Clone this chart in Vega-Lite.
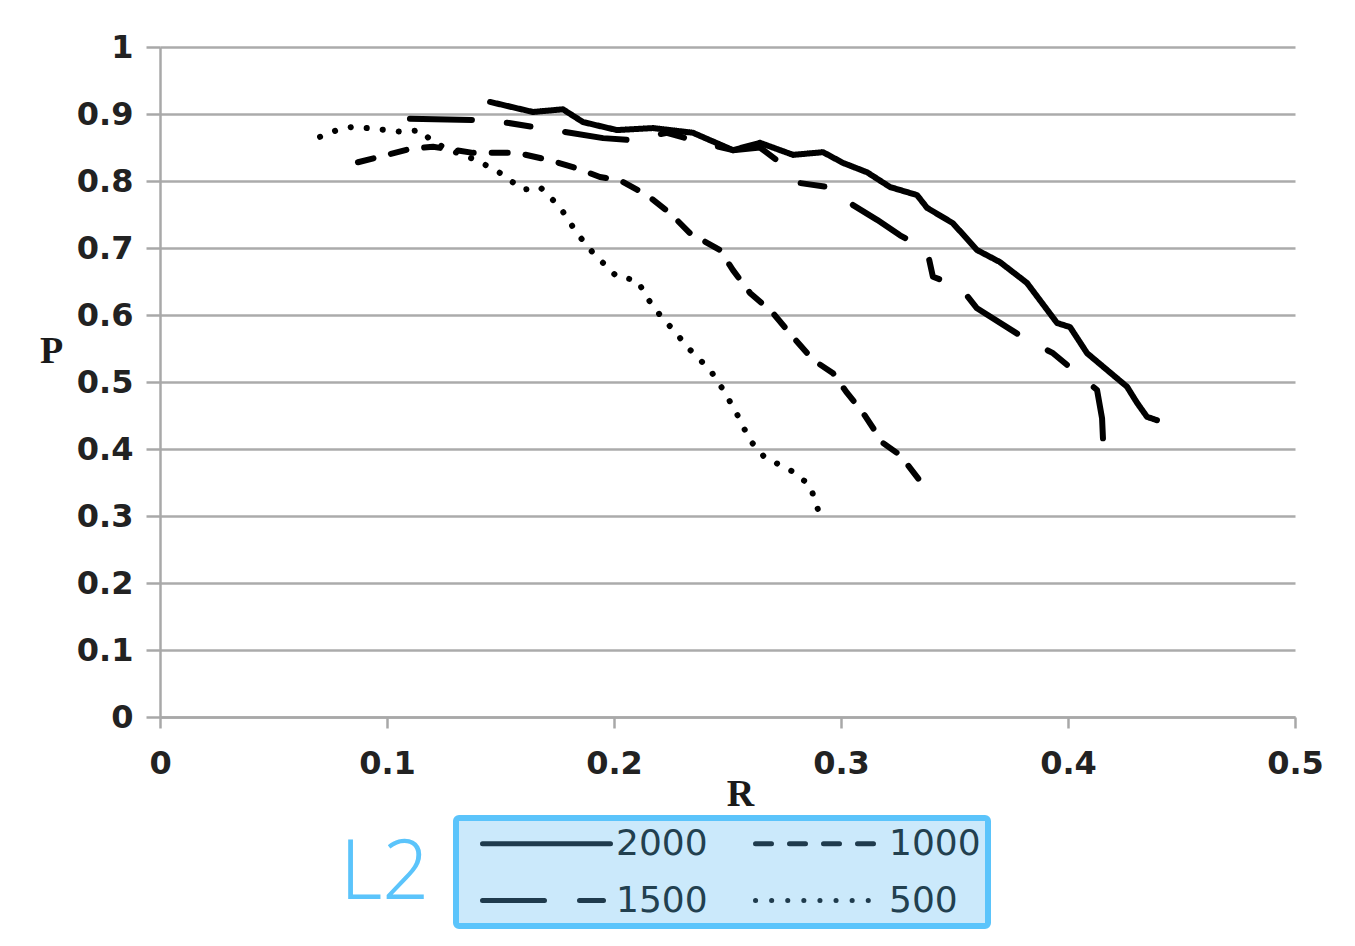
{
  "$schema": "https://vega.github.io/schema/vega-lite/v6.json",
  "width": 1135,
  "height": 670,
  "autosize": "none",
  "padding": {"left": 160, "top": 47, "right": 60, "bottom": 229},
  "background": "white",
  "title": {
    "text": "L2",
    "orient": "bottom",
    "anchor": "start",
    "frame": "group",
    "baseline": "top",
    "dx": 180,
    "offset": -95,
    "color": "#5bc4fb",
    "font": "Noto Sans",
    "fontSize": 82,
    "fontWeight": 300
  },
  "data": {
    "values": [
      {"N": "2000", "R": 0.1454, "P": 0.918},
      {"N": "2000", "R": 0.1643, "P": 0.903},
      {"N": "2000", "R": 0.1775, "P": 0.907},
      {"N": "2000", "R": 0.1863, "P": 0.888},
      {"N": "2000", "R": 0.2013, "P": 0.876},
      {"N": "2000", "R": 0.2172, "P": 0.879},
      {"N": "2000", "R": 0.2348, "P": 0.872},
      {"N": "2000", "R": 0.2524, "P": 0.846},
      {"N": "2000", "R": 0.2643, "P": 0.857},
      {"N": "2000", "R": 0.2789, "P": 0.839},
      {"N": "2000", "R": 0.2921, "P": 0.843},
      {"N": "2000", "R": 0.3009, "P": 0.827},
      {"N": "2000", "R": 0.3115, "P": 0.813},
      {"N": "2000", "R": 0.3216, "P": 0.791},
      {"N": "2000", "R": 0.3335, "P": 0.779},
      {"N": "2000", "R": 0.3379, "P": 0.760},
      {"N": "2000", "R": 0.3493, "P": 0.737},
      {"N": "2000", "R": 0.3599, "P": 0.697},
      {"N": "2000", "R": 0.3700, "P": 0.679},
      {"N": "2000", "R": 0.3819, "P": 0.648},
      {"N": "2000", "R": 0.3952, "P": 0.588},
      {"N": "2000", "R": 0.4009, "P": 0.582},
      {"N": "2000", "R": 0.4084, "P": 0.543},
      {"N": "2000", "R": 0.4172, "P": 0.518},
      {"N": "2000", "R": 0.4260, "P": 0.493},
      {"N": "2000", "R": 0.4304, "P": 0.469},
      {"N": "2000", "R": 0.4348, "P": 0.448},
      {"N": "2000", "R": 0.4392, "P": 0.443},
      {"N": "1500", "R": 0.1101, "P": 0.893},
      {"N": "1500", "R": 0.1396, "P": 0.891},
      {"N": "1500", "R": 0.1529, "P": 0.887},
      {"N": "1500", "R": 0.1806, "P": 0.872},
      {"N": "1500", "R": 0.1952, "P": 0.864},
      {"N": "1500", "R": 0.2084, "P": 0.861},
      {"N": "1500", "R": 0.2233, "P": 0.872},
      {"N": "1500", "R": 0.2379, "P": 0.858},
      {"N": "1500", "R": 0.2524, "P": 0.846},
      {"N": "1500", "R": 0.2643, "P": 0.850},
      {"N": "1500", "R": 0.2744, "P": 0.824},
      {"N": "1500", "R": 0.2819, "P": 0.797},
      {"N": "1500", "R": 0.2965, "P": 0.790},
      {"N": "1500", "R": 0.3053, "P": 0.764},
      {"N": "1500", "R": 0.3159, "P": 0.742},
      {"N": "1500", "R": 0.3260, "P": 0.719},
      {"N": "1500", "R": 0.3379, "P": 0.697},
      {"N": "1500", "R": 0.3405, "P": 0.657},
      {"N": "1500", "R": 0.3524, "P": 0.642},
      {"N": "1500", "R": 0.3599, "P": 0.610},
      {"N": "1500", "R": 0.3819, "P": 0.563},
      {"N": "1500", "R": 0.3934, "P": 0.543},
      {"N": "1500", "R": 0.4128, "P": 0.488},
      {"N": "1500", "R": 0.4150, "P": 0.446},
      {"N": "1500", "R": 0.4154, "P": 0.416},
      {"N": "1000", "R": 0.0872, "P": 0.828},
      {"N": "1000", "R": 0.1115, "P": 0.849},
      {"N": "1000", "R": 0.1203, "P": 0.851},
      {"N": "1000", "R": 0.1379, "P": 0.842},
      {"N": "1000", "R": 0.1573, "P": 0.842},
      {"N": "1000", "R": 0.1718, "P": 0.831},
      {"N": "1000", "R": 0.1837, "P": 0.819},
      {"N": "1000", "R": 0.1938, "P": 0.806},
      {"N": "1000", "R": 0.2026, "P": 0.801},
      {"N": "1000", "R": 0.2145, "P": 0.779},
      {"N": "1000", "R": 0.2247, "P": 0.752},
      {"N": "1000", "R": 0.2335, "P": 0.722},
      {"N": "1000", "R": 0.2467, "P": 0.697},
      {"N": "1000", "R": 0.2524, "P": 0.667},
      {"N": "1000", "R": 0.2599, "P": 0.633},
      {"N": "1000", "R": 0.2700, "P": 0.603},
      {"N": "1000", "R": 0.2789, "P": 0.567},
      {"N": "1000", "R": 0.2877, "P": 0.533},
      {"N": "1000", "R": 0.2965, "P": 0.513},
      {"N": "1000", "R": 0.3026, "P": 0.484},
      {"N": "1000", "R": 0.3097, "P": 0.454},
      {"N": "1000", "R": 0.3185, "P": 0.409},
      {"N": "1000", "R": 0.3260, "P": 0.391},
      {"N": "1000", "R": 0.3379, "P": 0.339},
      {"N": "500", "R": 0.0705, "P": 0.866},
      {"N": "500", "R": 0.0780, "P": 0.876},
      {"N": "500", "R": 0.0850, "P": 0.881},
      {"N": "500", "R": 0.1000, "P": 0.876},
      {"N": "500", "R": 0.1070, "P": 0.873},
      {"N": "500", "R": 0.1145, "P": 0.876},
      {"N": "500", "R": 0.1203, "P": 0.858},
      {"N": "500", "R": 0.1308, "P": 0.842},
      {"N": "500", "R": 0.1396, "P": 0.831},
      {"N": "500", "R": 0.1498, "P": 0.812},
      {"N": "500", "R": 0.1599, "P": 0.787},
      {"N": "500", "R": 0.1674, "P": 0.791},
      {"N": "500", "R": 0.1762, "P": 0.761},
      {"N": "500", "R": 0.1837, "P": 0.722},
      {"N": "500", "R": 0.1907, "P": 0.693},
      {"N": "500", "R": 0.2013, "P": 0.657},
      {"N": "500", "R": 0.2101, "P": 0.652},
      {"N": "500", "R": 0.2172, "P": 0.612},
      {"N": "500", "R": 0.2260, "P": 0.578},
      {"N": "500", "R": 0.2335, "P": 0.548},
      {"N": "500", "R": 0.2423, "P": 0.518},
      {"N": "500", "R": 0.2467, "P": 0.496},
      {"N": "500", "R": 0.2533, "P": 0.458},
      {"N": "500", "R": 0.2599, "P": 0.413},
      {"N": "500", "R": 0.2665, "P": 0.387},
      {"N": "500", "R": 0.2775, "P": 0.369},
      {"N": "500", "R": 0.2863, "P": 0.346},
      {"N": "500", "R": 0.2907, "P": 0.301}
    ]
  },
  "mark": {"type": "line", "color": "black", "strokeWidth": 6, "strokeCap": "round", "strokeJoin": "round"},
  "encoding": {
    "x": {
      "field": "R", "type": "quantitative",
      "scale": {"domain": [0, 0.5], "nice": false, "zero": false},
      "axis": {
        "title": "R",
        "values": [0, 0.1, 0.2, 0.3, 0.4, 0.5],
        "format": "~g",
        "grid": false,
        "domainColor": "#a8a8a8", "domainWidth": 2.5,
        "tickColor": "#a8a8a8", "tickWidth": 2.5, "tickSize": 11,
        "labelFont": "DejaVu Sans", "labelFontSize": 32, "labelFontWeight": "bold", "labelColor": "#222222", "labelPadding": 20,
        "labelFlush": false,
        "titleFont": "Liberation Serif", "titleFontSize": 38, "titleFontWeight": "bold", "titleColor": "#1a1a1a",
        "titleX": 580, "titleY": 88, "titleBaseline": "alphabetic"
      }
    },
    "y": {
      "field": "P", "type": "quantitative",
      "scale": {"domain": [0, 1], "nice": false},
      "axis": {
        "title": "P",
        "values": [0, 0.1, 0.2, 0.3, 0.4, 0.5, 0.6, 0.7, 0.8, 0.9, 1],
        "format": "~g",
        "grid": true, "gridColor": "#ababab", "gridWidth": 2.5,
        "domainColor": "#a8a8a8", "domainWidth": 2.5,
        "tickColor": "#a8a8a8", "tickWidth": 2.5, "tickSize": 14,
        "labelFont": "DejaVu Sans", "labelFontSize": 32, "labelFontWeight": "bold", "labelColor": "#222222", "labelPadding": 13,
        "labelFlush": false,
        "titleFont": "Liberation Serif", "titleFontSize": 38, "titleFontWeight": "bold", "titleColor": "#1a1a1a",
        "titleAngle": 0, "titleX": -109, "titleY": 315, "titleBaseline": "alphabetic", "titleAlign": "center"
      }
    },
    "strokeDash": {
      "field": "N", "type": "nominal",
      "scale": {
        "domain": ["2000", "1000", "1500", "500"],
        "range": [[1, 0], [16, 18], [62, 35, 24, 35], [0.1, 16]]
      },
      "legend": {
        "title": null,
        "orient": "none",
        "direction": "horizontal",
        "legendX": 296,
        "legendY": 771,
        "columns": 2,
        "columnPadding": 28,
        "rowPadding": 20,
        "padding": 7,
        "symbolOffset": 17,
        "symbolType": "M-1,0H7",
        "symbolSize": 1024,
        "symbolStrokeWidth": 5,
        "symbolStrokeColor": "#1f3b4d",
        "labelFont": "DejaVu Sans",
        "labelFontSize": 36,
        "labelColor": "#22404f",
        "labelOffset": 99,
        "fillColor": "#cbe9fb",
        "strokeColor": "#5bc4fb",
        "cornerRadius": 3,
        "encode": {
          "legend": {"update": {"strokeWidth": {"value": 6}}},
          "symbols": {"update": {"strokeCap": {"value": "round"}}}
        }
      }
    }
  },
  "config": {
    "view": {"stroke": null}
  }
}
